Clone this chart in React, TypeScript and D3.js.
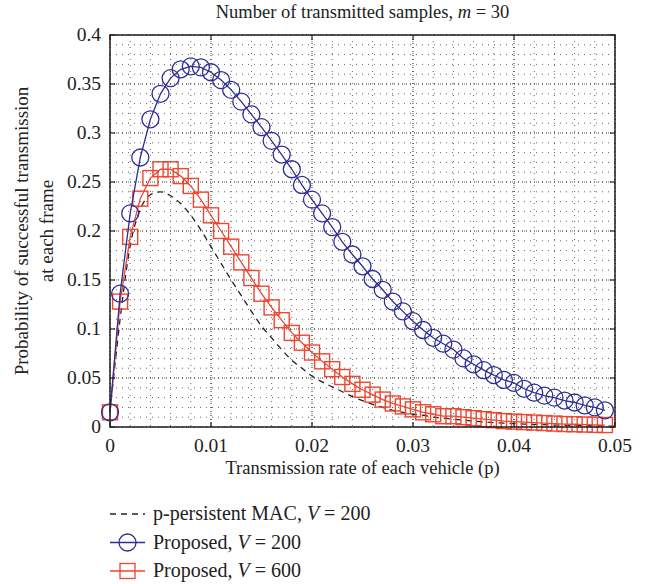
import React from "react";
import * as d3 from "d3";

// x positions of the samples (transmission rate p)
const pValues = d3.range(0, 50).map((i) => i / 1000);

// Proposed, V = 200 (blue circles)
const proposed200 = [
  0.015, 0.136, 0.218, 0.275, 0.314, 0.340, 0.356, 0.365, 0.368, 0.367,
  0.362, 0.354, 0.344, 0.332, 0.319, 0.306, 0.292, 0.278, 0.263, 0.247,
  0.232, 0.218, 0.204, 0.189, 0.176, 0.164, 0.151, 0.140, 0.128, 0.118,
  0.108, 0.099, 0.091, 0.085, 0.079, 0.070, 0.064, 0.058, 0.053, 0.048,
  0.045, 0.039, 0.035, 0.032, 0.030, 0.027, 0.025, 0.022, 0.020, 0.017,
];

// Proposed, V = 600 (red squares)
const proposed600 = [
  0.015, 0.128, 0.194, 0.233, 0.254, 0.263, 0.263, 0.256, 0.246, 0.232,
  0.216, 0.200, 0.184, 0.168, 0.152, 0.136, 0.122, 0.109, 0.096, 0.086,
  0.076, 0.067, 0.059, 0.051, 0.044, 0.038, 0.033, 0.028, 0.024, 0.021,
  0.018, 0.015, 0.013, 0.011, 0.011, 0.010, 0.009, 0.008, 0.007, 0.006,
  0.0055, 0.005, 0.0045, 0.004, 0.0035, 0.003, 0.0028, 0.0025, 0.0022, 0.002,
];

// p-persistent MAC, V = 200 (dashed)
const pPersistent = [
  0.015, 0.110, 0.185, 0.222, 0.237, 0.240, 0.236, 0.228, 0.216, 0.201,
  0.184, 0.167, 0.150, 0.134, 0.118, 0.103, 0.091, 0.079, 0.068, 0.060,
  0.052, 0.046, 0.041, 0.036, 0.031, 0.027, 0.023, 0.020, 0.017, 0.015,
  0.013, 0.012, 0.010, 0.009, 0.008, 0.007, 0.006, 0.005, 0.0045, 0.004,
  0.0035, 0.003, 0.0027, 0.0024, 0.002, 0.0018, 0.0016, 0.0014, 0.0012, 0.001,
  0.0009,
];
const pPersistentX = d3.range(0, 51).map((i) => i / 1000);

const xTicks = [0, 0.01, 0.02, 0.03, 0.04, 0.05];
const yTicks = [0, 0.05, 0.1, 0.15, 0.2, 0.25, 0.3, 0.35, 0.4];
const xMinor = d3.range(0, 51, 2).map((i) => i / 1000);
const yMinor = d3.range(0, 41).map((i) => i / 100);

const legendItems = [
  { label: "p-persistent MAC, ", kind: "dash" },
  { label: "Proposed, ", kind: "circle" },
  { label: "Proposed, ", kind: "square" },
];
const legendV = ["200", "200", "600"];

const BLUE = "#2e2e96";
const RED = "#ee4630";
const FONT = "'Liberation Serif', 'DejaVu Serif', serif";

export default function App() {
  const left = 110, right = 615, top = 35, bottom = 427;
  const x = d3.scaleLinear().domain([0, 0.05]).range([left, right]);
  const y = d3.scaleLinear().domain([0, 0.4]).range([bottom, top]);

  const line = d3.line<number>().x((d, i) => x(pValues[i])).y((d) => y(d));
  const dashLine = d3
    .line<number>()
    .x((d, i) => x(pPersistentX[i]))
    .y((d) => y(d))
    .curve(d3.curveMonotoneX);

  const fmt = (v: number) => (v === 0 ? "0" : String(+v.toFixed(3)));

  return (
    <svg
      width={648}
      height={584}
      style={{ position: "absolute", left: 0, top: 0, background: "#fff" }}
      fontFamily={FONT}
    >
      <rect width={648} height={584} fill="#fff" />

      {/* minor grid */}
      <g stroke="#666" strokeWidth={1} strokeDasharray="1,5">
        {xMinor.map((v) => (
          <line key={"xm" + v} x1={x(v)} x2={x(v)} y1={top} y2={bottom} />
        ))}
        {yMinor.map((v) => (
          <line key={"ym" + v} x1={left} x2={right} y1={y(v)} y2={y(v)} />
        ))}
      </g>
      {/* major grid */}
      <g stroke="#222" strokeWidth={1} strokeDasharray="1,3">
        {xTicks.map((v) => (
          <line key={"xg" + v} x1={x(v)} x2={x(v)} y1={top} y2={bottom} />
        ))}
        {yTicks.map((v) => (
          <line key={"yg" + v} x1={left} x2={right} y1={y(v)} y2={y(v)} />
        ))}
      </g>

      {/* series */}
      <path d={dashLine(pPersistent) || ""} fill="none" stroke="#222" strokeWidth={1.3} strokeDasharray="6,5" />
      <path d={line(proposed600) || ""} fill="none" stroke={RED} strokeWidth={1.3} />
      {proposed600.map((d, i) => (
        <rect
          key={"s" + i}
          x={x(pValues[i]) - 7.5}
          y={y(d) - 7.5}
          width={15}
          height={15}
          fill="none"
          stroke={RED}
          strokeWidth={1.4}
        />
      ))}
      <path d={line(proposed200) || ""} fill="none" stroke={BLUE} strokeWidth={1.3} />
      {proposed200.map((d, i) => (
        <circle key={"c" + i} cx={x(pValues[i])} cy={y(d)} r={8.5} fill="none" stroke={BLUE} strokeWidth={1.3} />
      ))}

      {/* axes box and ticks */}
      <rect x={left} y={top} width={right - left} height={bottom - top} fill="none" stroke="#222" strokeWidth={1.5} />
      <g stroke="#222" strokeWidth={1.2}>
        {xTicks.map((v) => (
          <g key={"xt" + v}>
            <line x1={x(v)} x2={x(v)} y1={bottom} y2={bottom - 5} />
            <line x1={x(v)} x2={x(v)} y1={top} y2={top + 5} />
          </g>
        ))}
        {yTicks.map((v) => (
          <g key={"yt" + v}>
            <line x1={left} x2={left + 5} y1={y(v)} y2={y(v)} />
            <line x1={right} x2={right - 5} y1={y(v)} y2={y(v)} />
          </g>
        ))}
      </g>

      {/* tick labels */}
      <g fontSize={19.5} fill="#222">
        {xTicks.map((v) => (
          <text key={"xl" + v} x={x(v)} y={bottom + 25} textAnchor="middle">
            {fmt(v)}
          </text>
        ))}
        {yTicks.map((v) => (
          <text key={"yl" + v} x={left - 9} y={y(v) + 6} textAnchor="end">
            {fmt(v)}
          </text>
        ))}
      </g>

      {/* title and axis labels */}
      <text x={(left + right) / 2} y={18} textAnchor="middle" fontSize={18.5} fill="#222">
        Number of transmitted samples, <tspan fontStyle="italic">m</tspan> = 30
      </text>
      <text x={(left + right) / 2} y={474} textAnchor="middle" fontSize={18.5} fill="#222">
        Transmission rate of each vehicle (p)
      </text>
      <g transform={`translate(0,${(top + bottom) / 2}) rotate(-90)`} fontSize={19} fill="#222" textAnchor="middle">
        <text x={0} y={28}>Probability of successful transmission</text>
        <text x={0} y={53}>at each frame</text>
      </g>

      {/* legend */}
      <g fontSize={20} fill="#222">
        {legendItems.map((item, i) => {
          const ly = 514 + i * 28.5;
          return (
            <g key={"lg" + i}>
              {item.kind === "dash" && (
                <line x1={110} x2={145} y1={ly} y2={ly} stroke="#222" strokeWidth={1.3} strokeDasharray="6,5" />
              )}
              {item.kind === "circle" && (
                <g stroke={BLUE} fill="none" strokeWidth={1.3}>
                  <line x1={110} x2={145} y1={ly} y2={ly} />
                  <circle cx={127.5} cy={ly} r={8.5} />
                </g>
              )}
              {item.kind === "square" && (
                <g stroke={RED} fill="none" strokeWidth={1.3}>
                  <line x1={110} x2={145} y1={ly} y2={ly} />
                  <rect x={120} y={ly - 7.5} width={15} height={15} />
                </g>
              )}
              <text x={153} y={ly + 6}>
                {item.label}
                <tspan fontStyle="italic">V</tspan> = {legendV[i]}
              </text>
            </g>
          );
        })}
      </g>
    </svg>
  );
}
